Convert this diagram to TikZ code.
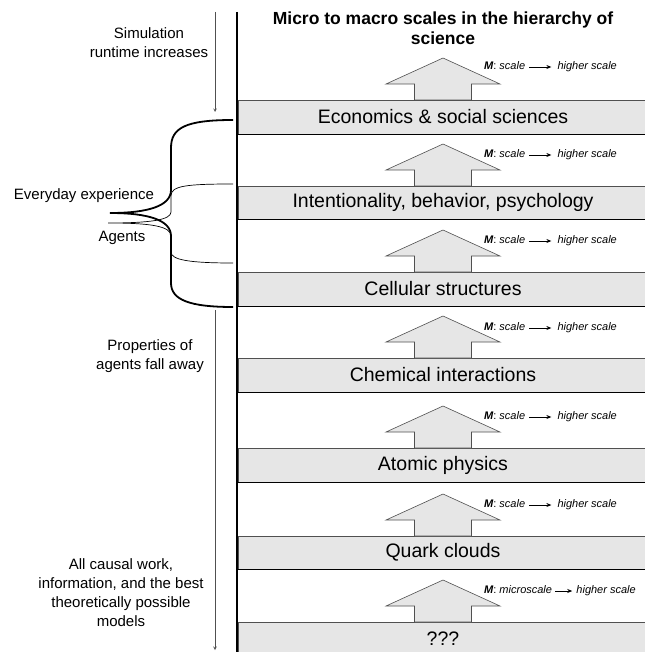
\documentclass[tikz,border=0pt]{standalone}
\usepackage{fontspec}
\setmainfont{Liberation Sans}
\usetikzlibrary{positioning, arrows.meta}
\definecolor{bandgray}{RGB}{230,230,230}
\definecolor{edgegray}{RGB}{80,80,80}

\begin{document}
\begin{tikzpicture}[
        x=1pt, y=-1pt,
        >=stealth,
        % Style for the grey level bands
        band/.style={rectangle, draw=edgegray, line width=0.8pt, fill=bandgray, minimum width=410pt, minimum height=34pt, inner sep=0pt, font=\fontsize{19.5}{22}\selectfont},
        % Style for the thick line under each band
        sep/.style={line width=1.6pt, black},
        % Style for the upward block arrows
        uparrow/.style={draw=edgegray, line width=0.6pt, fill=bandgray},
        % Style for the small mapping labels
        mlabel/.style={anchor=west, inner sep=1pt, text height=8pt, text depth=2.5pt, font=\fontsize{11}{13}\selectfont\itshape},
        mto/.style={-{Stealth[length=5pt, width=4pt]}, line width=0.7pt, shorten <=3pt, shorten >=5pt},
        % Style for the texts on the left
        sidetext/.style={inner sep=0pt, font=\fontsize{15}{19}\selectfont},
        timeline/.style={->, line width=0.6pt, edgegray},
        bigbrace/.style={line width=1.8pt, black},
        smallbrace/.style={line width=0.7pt, black}
    ]
    \useasboundingbox (0,0) rectangle (644,652);

        % --- Title ---
        \node[align=center, inner sep=0pt, font=\fontsize{17.5}{20}\selectfont\bfseries] (title) at (443,28) {Micro to macro scales in the hierarchy of\\science};

        % --- Bands ---
        \node[band] (econ) at (443,117) {Economics \& social sciences};
        \node[band, minimum height=33pt] (intent) at (443,202.5) {Intentionality, behavior, psychology};
        \node[band] (cell) at (443,289) {Cellular structures};
        \node[band] (chem) at (443,375) {Chemical interactions};
        \node[band] (atom) at (443,465) {Atomic physics};
        \node[band, minimum height=33pt] (quark) at (443,552.5) {Quark clouds};
        \node[band] (unknown) at (443,639) {???};

        \draw[sep] (econ.south west) -- (econ.south east);
        \draw[sep] (intent.south west) -- (intent.south east);
        \draw[sep] (cell.south west) -- (cell.south east);
        \draw[sep] (chem.south west) -- (chem.south east);
        \draw[sep] (atom.south west) -- (atom.south east);
        \draw[sep] (quark.south west) -- (quark.south east);

        % --- Block arrows ---
        \draw[uparrow, shift={(443,100)}] (-28.5,0) -- (-28.5,-16) -- (-57,-16) -- (0,-42) -- (57,-16) -- (28.5,-16) -- (28.5,0) -- cycle;
        \draw[uparrow, shift={(443,186)}] (-28.5,0) -- (-28.5,-16) -- (-57,-16) -- (0,-42) -- (57,-16) -- (28.5,-16) -- (28.5,0) -- cycle;
        \draw[uparrow, shift={(443,272)}] (-28.5,0) -- (-28.5,-16) -- (-57,-16) -- (0,-42) -- (57,-16) -- (28.5,-16) -- (28.5,0) -- cycle;
        \draw[uparrow, shift={(443,358)}] (-28.5,0) -- (-28.5,-16) -- (-57,-16) -- (0,-42) -- (57,-16) -- (28.5,-16) -- (28.5,0) -- cycle;
        \draw[uparrow, shift={(443,448)}] (-28.5,0) -- (-28.5,-16) -- (-57,-16) -- (0,-42) -- (57,-16) -- (28.5,-16) -- (28.5,0) -- cycle;
        \draw[uparrow, shift={(443,536)}] (-28.5,0) -- (-28.5,-16) -- (-57,-16) -- (0,-42) -- (57,-16) -- (28.5,-16) -- (28.5,0) -- cycle;
        \draw[uparrow, shift={(443,622)}] (-28.5,0) -- (-28.5,-16) -- (-57,-16) -- (0,-42) -- (57,-16) -- (28.5,-16) -- (28.5,0) -- cycle;

        % --- Mapping labels ---
        \node[mlabel] (m1) at (483,67) {\textbf{M}\upshape:\itshape\ scale};
        \node[mlabel, right=30pt of m1] (h1) {higher scale};
        \draw[mto] (m1) -- (h1);
        \node[mlabel] (m2) at (483,155) {\textbf{M}\upshape:\itshape\ scale};
        \node[mlabel, right=30pt of m2] (h2) {higher scale};
        \draw[mto] (m2) -- (h2);
        \node[mlabel] (m3) at (483,241) {\textbf{M}\upshape:\itshape\ scale};
        \node[mlabel, right=30pt of m3] (h3) {higher scale};
        \draw[mto] (m3) -- (h3);
        \node[mlabel] (m4) at (483,328) {\textbf{M}\upshape:\itshape\ scale};
        \node[mlabel, right=30pt of m4] (h4) {higher scale};
        \draw[mto] (m4) -- (h4);
        \node[mlabel] (m5) at (483,417) {\textbf{M}\upshape:\itshape\ scale};
        \node[mlabel, right=30pt of m5] (h5) {higher scale};
        \draw[mto] (m5) -- (h5);
        \node[mlabel] (m6) at (483,505) {\textbf{M}\upshape:\itshape\ scale};
        \node[mlabel, right=30pt of m6] (h6) {higher scale};
        \draw[mto] (m6) -- (h6);
        \node[mlabel] (m7) at (483,591) {\textbf{M}\upshape:\itshape\ microscale};
        \node[mlabel, right=22pt of m7] (h7) {higher scale};
        \draw[mto, shorten <=2pt, shorten >=3pt] (m7) -- (h7);

        % --- Main vertical line ---
        \coordinate (axistop) at (237,12);
        \coordinate (axisbot) at (237,652);
        \draw[line width=2pt] (axistop) -- (axisbot);

        % --- Left timelines and texts ---
        \coordinate (simtop) at (215,12);
        \coordinate (simend) at (215,112);
        \draw[timeline] (simtop) -- (simend);
        \coordinate (proptop) at (215,310);
        \coordinate (propend) at (215,650);
        \draw[timeline] (proptop) -- (propend);

        \node[sidetext, align=center] (runtime) at (149,42.5) {Simulation\\runtime increases};
        \node[sidetext] (everyday) at (84,196) {Everyday experience};
        \node[sidetext] (agents) at (122,238) {Agents};
        \node[sidetext, align=center] (fallaway) at (150,356.5) {Properties of\\agents fall away};
        \node[sidetext, align=center] (causal) at (121,592.5) {All causal work,\\information, and the best\\theoretically possible\\models};

        % --- Braces ---
        \draw[bigbrace] (233,120) .. controls (185,120) and (171,128) .. (171,148) -- (171,190)
            .. controls (171,206) and (148,213) .. (110,213)
            .. controls (148,213) and (171,220) .. (171,236) -- (171,283)
            .. controls (171,300) and (190,307) .. (233,307);
        \draw[smallbrace] (233,184) .. controls (185,184) and (171,186) .. (171,196) -- (171,212)
            .. controls (171,220) and (150,223) .. (108,223)
            .. controls (150,223) and (171,226) .. (171,236) -- (171,252)
            .. controls (171,260) and (190,263) .. (233,263);

    \end{tikzpicture}
\end{document}
